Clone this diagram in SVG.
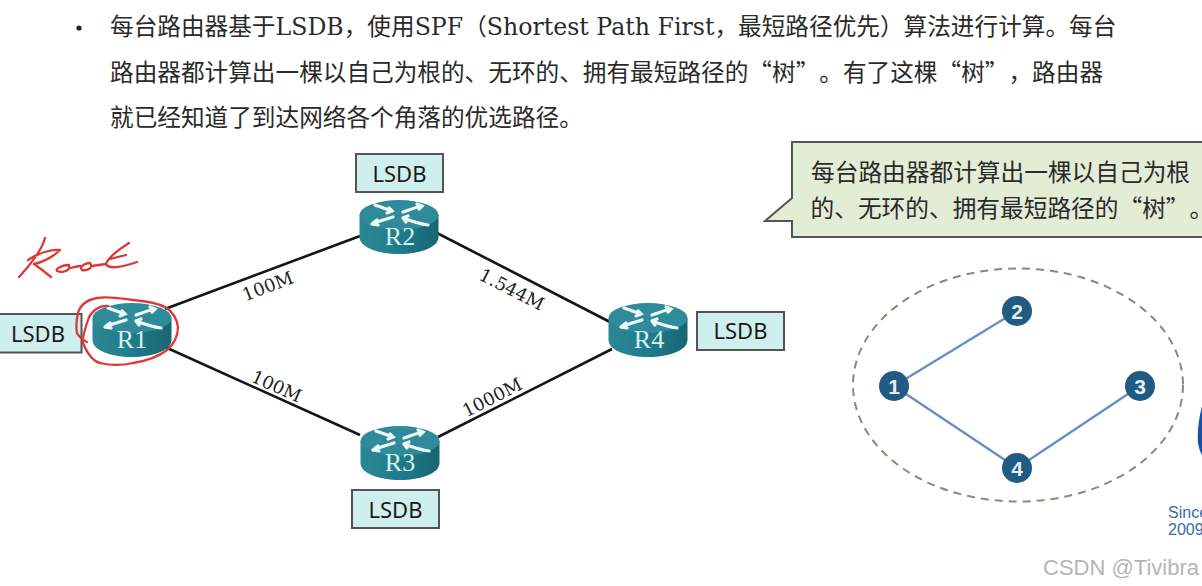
<svg xmlns="http://www.w3.org/2000/svg" width="1202" height="586" viewBox="0 0 1202 586">
<style>
.body{font-family:"DejaVu Serif","Noto Sans CJK SC",serif;font-size:23.65px;fill:#2a2a2a;text-spacing-trim:space-all}
.q{font-family:"Noto Sans CJK SC",sans-serif}
.call{font-family:"Noto Sans CJK SC",sans-serif;font-size:23.7px;fill:#2a2a2a;text-spacing-trim:space-all}
.lsdb{fill:#cfeeee;stroke:#555;stroke-width:2}
.lsdbt{font-family:"Noto Sans",sans-serif;font-size:22px;fill:#1a1a1a;text-anchor:middle}
.rl{font-family:"Liberation Serif",serif;font-size:26px;fill:#d9f0f0;text-anchor:middle}
.bw{font-family:"DejaVu Serif",serif;font-size:18px;fill:#222;text-anchor:middle}
.link{stroke:#151515;stroke-width:2.6;fill:none}
.tl{stroke:#6a8fc6;stroke-width:2.5;fill:none}
.tn{fill:#1f5b82}
.tt{font-family:"Liberation Sans",sans-serif;font-size:21px;font-weight:bold;fill:#e6eef2;text-anchor:middle}
.ink{fill:none;stroke:#dc3a36;stroke-width:2.3;stroke-linecap:round;stroke-linejoin:round}
.ar{fill:none;stroke:#eefafa;stroke-width:3.2;stroke-linecap:round}
</style>
<defs>
<linearGradient id="side" x1="0" x2="1" y1="0" y2="0"><stop offset="0" stop-color="#2c8795"/><stop offset=".5" stop-color="#1f7c8a"/><stop offset="1" stop-color="#176672"/></linearGradient>
<g id="router">
<path d="M-39.5 15V37C-39.5 47 -22 54 0 54S39.5 47 39.5 37V15Z" fill="url(#side)"/>
<ellipse cx="0" cy="15" rx="39.5" ry="15" fill="#2f8b99"/>
<path class="ar" d="M-24 5C-18 7 -13 9 -7 11M-10 8L-7 11L-12 13"/>
<path class="ar" d="M23 6C17 7 10 10 4 12M18 4L23 6L20 9"/>
<path class="ar" d="M-6 17C-13 19 -20 21 -27 24M-27 24L-22 20M-27 24L-21 25"/>
<path class="ar" d="M29 25C21 24 12 21 4 18M4 18L9 16M4 18L7 22"/>
</g>
</defs>
<rect width="1202" height="586" fill="#fff"/>
<g id="bullet-text">
<circle cx="79" cy="28" r="2.6" fill="#222"/>
<text class="body" x="110" y="35">每台路由器基于LSDB，使用SPF（Shortest Path First，最短路径优先）算法进行计算。每台</text>
<text class="body" x="110" y="81">路由器都计算出一棵以自己为根的、无环的、拥有最短路径的<tspan class="q">“</tspan>树<tspan class="q">”。</tspan>有了这棵<tspan class="q">“</tspan>树<tspan class="q">”，</tspan>路由器</text>
<text class="body" x="110" y="126">就已经知道了到达网络各个角落的优选路径。</text>
</g>
<g id="connectors">
<path class="link" d="M165 309L360 236"/>
<path class="link" d="M165 347L360 435"/>
<path class="link" d="M437 233L610 322"/>
<path class="link" d="M438 437L612 349"/>
<path class="tl" d="M894 386L1017 311"/>
<path class="tl" d="M894 386L1017 468"/>
<path class="tl" d="M1017 468L1140 386"/>
</g>
<g id="link-labels">
<text class="bw" transform="translate(270 292) rotate(-21)">100M</text>
<text class="bw" transform="translate(274 392) rotate(24)">100M</text>
<text class="bw" transform="translate(509 295) rotate(27)">1.544M</text>
<text class="bw" transform="translate(495 403) rotate(-27)">1000M</text>
</g>
<g id="R1"><use href="#router" x="132" y="303"/><text class="rl" x="132" y="348">R1</text></g>
<g id="R2"><use href="#router" x="399" y="200"/><text class="rl" x="400" y="245">R2</text></g>
<g id="R3"><use href="#router" x="400" y="426"/><text class="rl" x="400" y="471">R3</text></g>
<g id="R4"><use href="#router" x="648" y="303"/><text class="rl" x="649" y="348">R4</text></g>
<g id="lsdb-r1"><rect class="lsdb" x="-4" y="314" width="85.500" height="38.500"/><text class="lsdbt" x="38" y="342">LSDB</text></g>
<g id="lsdb-r2"><rect class="lsdb" x="356" y="154" width="87" height="38"/><text class="lsdbt" x="399.500" y="182">LSDB</text></g>
<g id="lsdb-r3"><rect class="lsdb" x="352" y="490" width="87" height="38"/><text class="lsdbt" x="395.500" y="518">LSDB</text></g>
<g id="lsdb-r4"><rect class="lsdb" x="697" y="312" width="87" height="38"/><text class="lsdbt" x="740.500" y="339">LSDB</text></g>
<g id="callout">
<path d="M1204 142H792V198L765 221H792V237H1204Z" fill="#e3edd6" stroke="#555" stroke-width="2"/>
<text class="call" x="811" y="181">每台路由器都计算出一棵以自己为根</text>
<text class="call" x="810.500" y="217">的、无环的、拥有最短路径的“树”<tspan style="font-feature-settings:'halt'">。</tspan></text>
</g>
<g id="tree">
<ellipse cx="1018" cy="385" rx="165" ry="116.500" fill="none" stroke="#8a8a78" stroke-width="2" stroke-dasharray="8 6"/>
<g id="t1"><circle class="tn" cx="894" cy="386" r="15"/><text class="tt" x="894" y="393.500">1</text></g>
<g id="t2"><circle class="tn" cx="1017" cy="311" r="15"/><text class="tt" x="1017" y="318.500">2</text></g>
<g id="t3"><circle class="tn" cx="1140" cy="386" r="15"/><text class="tt" x="1140" y="393.500">3</text></g>
<g id="t4"><circle class="tn" cx="1017" cy="468" r="15"/><text class="tt" x="1017" y="475.500">4</text></g>
</g>
<g id="annotation">
<path class="ink" d="M45 238C42 250 30 265 19 277M28 260C38 253 52 249 60 250C52 258 40 263 34 264C40 268 46 273 51 277M69 265C62 265 55 269 57 271C62 273 71 271 69 265M71 268C74 267 78 266 81 266M90 263C84 263 79 268 82 270C87 271 94 268 90 263M92 266L106 264M129 243C118 250 108 258 106 264C108 269 120 268 137 262M110 259L126 255"/>
<path class="ink" d="M108 306C98 305 90 313 88 320C84 332 82 340 83 343C88 356 95 362 100 363C112 366 124 365 133 363C146 361 158 357 167 350C174 344 178 336 178 327C177 319 172 312 167 308C158 303 146 301 133 300C120 298 107 296 97 298C86 300 80 306 78 313C76 322 76 328 77 333C79 337 83 340 87 342"/>
</g>
<g id="logo">
<path d="M1203 403C1199 415 1197 432 1198 443C1199 449 1201 454 1203 457Z" fill="#1b50a3"/>
<text x="1168" y="518" font-family="Liberation Sans,sans-serif" font-size="16" fill="#3c6ba8">Since</text>
<text x="1168" y="535" font-family="Liberation Sans,sans-serif" font-size="16" fill="#3c6ba8">2009</text>
</g>
<text id="watermark" x="1043" y="575" font-family="Liberation Sans,sans-serif" font-size="22" fill="#b5b5b5">CSDN @Tivibra</text>
</svg>
